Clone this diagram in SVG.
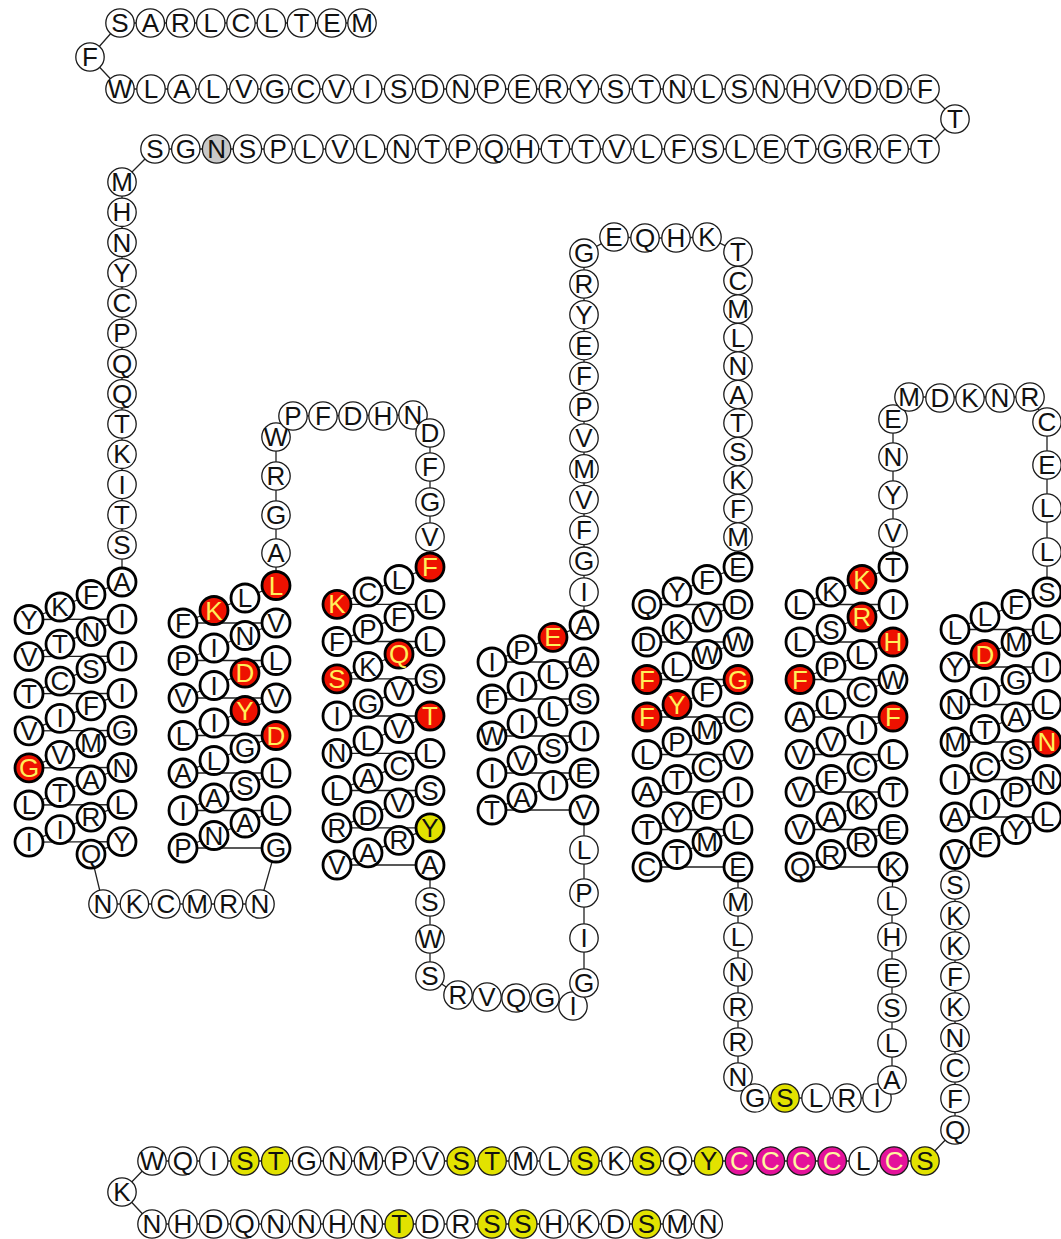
<svg xmlns="http://www.w3.org/2000/svg" width="1061" height="1239" viewBox="0 0 1061 1239">
<style>
circle{fill:#fff;stroke:#1a1a1a;stroke-width:1.3}
.t circle{stroke:#000;stroke-width:2.8}
.R circle{fill:#ee1100}
.R text{fill:#ffef5a}
.Y circle{fill:#e2e200}
.M circle{fill:#e4129b}
.M text{fill:#fff7a0}
.G circle{fill:#c8c8c8}
text{font-family:"Liberation Sans",Arial,sans-serif;font-size:26px;text-anchor:middle;dominant-baseline:central;fill:#111}
#connectors polyline{fill:none;stroke:#222;stroke-width:1.3}
</style>
<rect width="1061" height="1239" fill="#fff"/>
<g id="connectors">
<polyline points="362,23 120,23 90,57 120,89 925,89 955,119 925,149 155,149 122,182 122,545 122,582 91,594.5 60,607 29,619.5 122,619.1 91,631.6 60,644.1 29,656.6 122,656.2 91,668.7 60,681.2 29,693.7 122,693.3 91,705.8 60,718.3 29,730.8 122,730.4 91,742.9 60,755.4 29,767.9 122,767.5 91,780 60,792.5 29,805 122,804.6 91,817.1 60,829.6 29,842.1 122,841.7 91,854.2 103,904 260,904 276,848 183,848 214,835.5 245,823 276,810.5 183,810.5 214,798 245,785.5 276,773 183,773 214,760.5 245,748 276,735.5 183,735.5 214,723 245,710.5 276,698 183,698 214,685.5 245,673 276,660.5 183,660.5 214,648 245,635.5 276,623 183,623 214,610.5 245,598 276,585.5 276,437 293,416 413,415 430,433 430,537 430,567 399,579.5 368,592 337,604.3 430,604.3 399,616.8 368,629.3 337,641.5 430,641.5 399,654 368,666.5 337,678.8 430,678.8 399,691.3 368,703.8 337,716 430,716 399,728.5 368,741 337,753.3 430,753.3 399,765.8 368,778.3 337,790.5 430,790.5 399,803 368,815.5 337,827.8 430,827.8 399,840.3 368,852.8 337,865 430,865 430,976 458,995 487,997 516,998 545,998 573,1006 584,983 584,850 584,810 492,810 522,797.7 553,785.3 584,773 492,773 522,760.7 553,748.3 584,736 492,736 522,723.7 553,711.3 584,699 492,699 522,686.7 553,674.3 584,662 492,662 522,649.7 553,637.3 584,625 584,253.2 614,237 645,238 676,238 707,237 738,252 738,537 738,567 707,579.5 677,592 647,604.5 738,604.5 707,617 677,629.5 647,642 738,642 707,654.5 677,667 647,679.5 738,679.5 707,692 677,704.5 647,717 738,717 707,729.5 677,742 647,754.5 738,754.5 707,767 677,779.5 647,792 738,792 707,804.5 677,817 647,829.5 738,829.5 707,842 677,854.5 647,867 738,867 738,1077 755,1098 877,1098 892,1080 892,901 893,867 800,867 831,854.5 862,842 893,829.5 800,829.5 831,817 862,804.5 893,792 800,792 831,779.5 862,767 893,754.5 800,754.5 831,742 862,729.5 893,717 800,717 831,704.5 862,692 893,679.5 800,679.5 831,667 862,654.5 893,642 800,642 831,629.5 862,617 893,604.5 800,604.5 831,592 862,579.5 893,567 893,419 909,397 1030,397 1047,422 1047,552 1047,592 1016,604.5 985,617 955,629.5 1047,629.5 1016,642 985,654.5 955,667 1047,667 1016,679.5 985,692 955,704.5 1047,704.5 1016,717 985,729.5 955,742 1047,742 1016,754.5 985,767 955,779.5 1047,779.5 1016,792 985,804.5 955,817 1047,817 1016,829.5 985,842 955,854.5 955,1130 925,1161 152,1161 122,1192 152,1224 708.2,1224"/>
</g>
<g id="residues">
<g id="r1" class="l" transform="translate(362 23)"><circle r="14.2"/><text>M</text></g>
<g id="r2" class="l" transform="translate(331.8 23)"><circle r="14.2"/><text>E</text></g>
<g id="r3" class="l" transform="translate(301.5 23)"><circle r="14.2"/><text>T</text></g>
<g id="r4" class="l" transform="translate(271.3 23)"><circle r="14.2"/><text>L</text></g>
<g id="r5" class="l" transform="translate(241 23)"><circle r="14.2"/><text>C</text></g>
<g id="r6" class="l" transform="translate(210.8 23)"><circle r="14.2"/><text>L</text></g>
<g id="r7" class="l" transform="translate(180.5 23)"><circle r="14.2"/><text>R</text></g>
<g id="r8" class="l" transform="translate(150.3 23)"><circle r="14.2"/><text>A</text></g>
<g id="r9" class="l" transform="translate(120 23)"><circle r="14.2"/><text>S</text></g>
<g id="r10" class="l" transform="translate(90 57)"><circle r="14.2"/><text>F</text></g>
<g id="r11" class="l" transform="translate(120 89)"><circle r="14.2"/><text>W</text></g>
<g id="r12" class="l" transform="translate(151 89)"><circle r="14.2"/><text>L</text></g>
<g id="r13" class="l" transform="translate(181.9 89)"><circle r="14.2"/><text>A</text></g>
<g id="r14" class="l" transform="translate(212.9 89)"><circle r="14.2"/><text>L</text></g>
<g id="r15" class="l" transform="translate(243.8 89)"><circle r="14.2"/><text>V</text></g>
<g id="r16" class="l" transform="translate(274.8 89)"><circle r="14.2"/><text>G</text></g>
<g id="r17" class="l" transform="translate(305.8 89)"><circle r="14.2"/><text>C</text></g>
<g id="r18" class="l" transform="translate(336.7 89)"><circle r="14.2"/><text>V</text></g>
<g id="r19" class="l" transform="translate(367.7 89)"><circle r="14.2"/><text>I</text></g>
<g id="r20" class="l" transform="translate(398.6 89)"><circle r="14.2"/><text>S</text></g>
<g id="r21" class="l" transform="translate(429.6 89)"><circle r="14.2"/><text>D</text></g>
<g id="r22" class="l" transform="translate(460.6 89)"><circle r="14.2"/><text>N</text></g>
<g id="r23" class="l" transform="translate(491.5 89)"><circle r="14.2"/><text>P</text></g>
<g id="r24" class="l" transform="translate(522.5 89)"><circle r="14.2"/><text>E</text></g>
<g id="r25" class="l" transform="translate(553.4 89)"><circle r="14.2"/><text>R</text></g>
<g id="r26" class="l" transform="translate(584.4 89)"><circle r="14.2"/><text>Y</text></g>
<g id="r27" class="l" transform="translate(615.4 89)"><circle r="14.2"/><text>S</text></g>
<g id="r28" class="l" transform="translate(646.3 89)"><circle r="14.2"/><text>T</text></g>
<g id="r29" class="l" transform="translate(677.3 89)"><circle r="14.2"/><text>N</text></g>
<g id="r30" class="l" transform="translate(708.2 89)"><circle r="14.2"/><text>L</text></g>
<g id="r31" class="l" transform="translate(739.2 89)"><circle r="14.2"/><text>S</text></g>
<g id="r32" class="l" transform="translate(770.2 89)"><circle r="14.2"/><text>N</text></g>
<g id="r33" class="l" transform="translate(801.1 89)"><circle r="14.2"/><text>H</text></g>
<g id="r34" class="l" transform="translate(832.1 89)"><circle r="14.2"/><text>V</text></g>
<g id="r35" class="l" transform="translate(863 89)"><circle r="14.2"/><text>D</text></g>
<g id="r36" class="l" transform="translate(894 89)"><circle r="14.2"/><text>D</text></g>
<g id="r37" class="l" transform="translate(925 89)"><circle r="14.2"/><text>F</text></g>
<g id="r38" class="l" transform="translate(955 119)"><circle r="14.2"/><text>T</text></g>
<g id="r39" class="l" transform="translate(925 149)"><circle r="14.2"/><text>T</text></g>
<g id="r40" class="l" transform="translate(894.2 149)"><circle r="14.2"/><text>F</text></g>
<g id="r41" class="l" transform="translate(863.4 149)"><circle r="14.2"/><text>R</text></g>
<g id="r42" class="l" transform="translate(832.6 149)"><circle r="14.2"/><text>G</text></g>
<g id="r43" class="l" transform="translate(801.8 149)"><circle r="14.2"/><text>T</text></g>
<g id="r44" class="l" transform="translate(771 149)"><circle r="14.2"/><text>E</text></g>
<g id="r45" class="l" transform="translate(740.2 149)"><circle r="14.2"/><text>L</text></g>
<g id="r46" class="l" transform="translate(709.4 149)"><circle r="14.2"/><text>S</text></g>
<g id="r47" class="l" transform="translate(678.6 149)"><circle r="14.2"/><text>F</text></g>
<g id="r48" class="l" transform="translate(647.8 149)"><circle r="14.2"/><text>L</text></g>
<g id="r49" class="l" transform="translate(617 149)"><circle r="14.2"/><text>V</text></g>
<g id="r50" class="l" transform="translate(586.2 149)"><circle r="14.2"/><text>T</text></g>
<g id="r51" class="l" transform="translate(555.4 149)"><circle r="14.2"/><text>T</text></g>
<g id="r52" class="l" transform="translate(524.6 149)"><circle r="14.2"/><text>H</text></g>
<g id="r53" class="l" transform="translate(493.8 149)"><circle r="14.2"/><text>Q</text></g>
<g id="r54" class="l" transform="translate(463 149)"><circle r="14.2"/><text>P</text></g>
<g id="r55" class="l" transform="translate(432.2 149)"><circle r="14.2"/><text>T</text></g>
<g id="r56" class="l" transform="translate(401.4 149)"><circle r="14.2"/><text>N</text></g>
<g id="r57" class="l" transform="translate(370.6 149)"><circle r="14.2"/><text>L</text></g>
<g id="r58" class="l" transform="translate(339.8 149)"><circle r="14.2"/><text>V</text></g>
<g id="r59" class="l" transform="translate(309 149)"><circle r="14.2"/><text>L</text></g>
<g id="r60" class="l" transform="translate(278.2 149)"><circle r="14.2"/><text>P</text></g>
<g id="r61" class="l" transform="translate(247.4 149)"><circle r="14.2"/><text>S</text></g>
<g id="r62" class="l G" transform="translate(216.6 149)"><circle r="14.2"/><text>N</text></g>
<g id="r63" class="l" transform="translate(185.8 149)"><circle r="14.2"/><text>G</text></g>
<g id="r64" class="l" transform="translate(155 149)"><circle r="14.2"/><text>S</text></g>
<g id="r65" class="l" transform="translate(122 182)"><circle r="14.2"/><text>M</text></g>
<g id="r66" class="l" transform="translate(122 212.3)"><circle r="14.2"/><text>H</text></g>
<g id="r67" class="l" transform="translate(122 242.5)"><circle r="14.2"/><text>N</text></g>
<g id="r68" class="l" transform="translate(122 272.8)"><circle r="14.2"/><text>Y</text></g>
<g id="r69" class="l" transform="translate(122 303)"><circle r="14.2"/><text>C</text></g>
<g id="r70" class="l" transform="translate(122 333.3)"><circle r="14.2"/><text>P</text></g>
<g id="r71" class="l" transform="translate(122 363.5)"><circle r="14.2"/><text>Q</text></g>
<g id="r72" class="l" transform="translate(122 393.8)"><circle r="14.2"/><text>Q</text></g>
<g id="r73" class="l" transform="translate(122 424)"><circle r="14.2"/><text>T</text></g>
<g id="r74" class="l" transform="translate(122 454.3)"><circle r="14.2"/><text>K</text></g>
<g id="r75" class="l" transform="translate(122 484.5)"><circle r="14.2"/><text>I</text></g>
<g id="r76" class="l" transform="translate(122 514.8)"><circle r="14.2"/><text>T</text></g>
<g id="r77" class="l" transform="translate(122 545)"><circle r="14.2"/><text>S</text></g>
<g id="r78" class="t" transform="translate(122 582)"><circle r="14"/><text>A</text></g>
<g id="r79" class="t" transform="translate(91 594.5)"><circle r="14"/><text>F</text></g>
<g id="r80" class="t" transform="translate(60 607)"><circle r="14"/><text>K</text></g>
<g id="r81" class="t" transform="translate(29 619.5)"><circle r="14"/><text>Y</text></g>
<g id="r82" class="t" transform="translate(122 619.1)"><circle r="14"/><text>I</text></g>
<g id="r83" class="t" transform="translate(91 631.6)"><circle r="14"/><text>N</text></g>
<g id="r84" class="t" transform="translate(60 644.1)"><circle r="14"/><text>T</text></g>
<g id="r85" class="t" transform="translate(29 656.6)"><circle r="14"/><text>V</text></g>
<g id="r86" class="t" transform="translate(122 656.2)"><circle r="14"/><text>I</text></g>
<g id="r87" class="t" transform="translate(91 668.7)"><circle r="14"/><text>S</text></g>
<g id="r88" class="t" transform="translate(60 681.2)"><circle r="14"/><text>C</text></g>
<g id="r89" class="t" transform="translate(29 693.7)"><circle r="14"/><text>T</text></g>
<g id="r90" class="t" transform="translate(122 693.3)"><circle r="14"/><text>I</text></g>
<g id="r91" class="t" transform="translate(91 705.8)"><circle r="14"/><text>F</text></g>
<g id="r92" class="t" transform="translate(60 718.3)"><circle r="14"/><text>I</text></g>
<g id="r93" class="t" transform="translate(29 730.8)"><circle r="14"/><text>V</text></g>
<g id="r94" class="t" transform="translate(122 730.4)"><circle r="14"/><text>G</text></g>
<g id="r95" class="t" transform="translate(91 742.9)"><circle r="14"/><text>M</text></g>
<g id="r96" class="t" transform="translate(60 755.4)"><circle r="14"/><text>V</text></g>
<g id="r97" class="t R" transform="translate(29 767.9)"><circle r="14"/><text>G</text></g>
<g id="r98" class="t" transform="translate(122 767.5)"><circle r="14"/><text>N</text></g>
<g id="r99" class="t" transform="translate(91 780)"><circle r="14"/><text>A</text></g>
<g id="r100" class="t" transform="translate(60 792.5)"><circle r="14"/><text>T</text></g>
<g id="r101" class="t" transform="translate(29 805)"><circle r="14"/><text>L</text></g>
<g id="r102" class="t" transform="translate(122 804.6)"><circle r="14"/><text>L</text></g>
<g id="r103" class="t" transform="translate(91 817.1)"><circle r="14"/><text>R</text></g>
<g id="r104" class="t" transform="translate(60 829.6)"><circle r="14"/><text>I</text></g>
<g id="r105" class="t" transform="translate(29 842.1)"><circle r="14"/><text>I</text></g>
<g id="r106" class="t" transform="translate(122 841.7)"><circle r="14"/><text>Y</text></g>
<g id="r107" class="t" transform="translate(91 854.2)"><circle r="14"/><text>Q</text></g>
<g id="r108" class="l" transform="translate(103 904)"><circle r="14.2"/><text>N</text></g>
<g id="r109" class="l" transform="translate(134.4 904)"><circle r="14.2"/><text>K</text></g>
<g id="r110" class="l" transform="translate(165.8 904)"><circle r="14.2"/><text>C</text></g>
<g id="r111" class="l" transform="translate(197.2 904)"><circle r="14.2"/><text>M</text></g>
<g id="r112" class="l" transform="translate(228.6 904)"><circle r="14.2"/><text>R</text></g>
<g id="r113" class="l" transform="translate(260 904)"><circle r="14.2"/><text>N</text></g>
<g id="r114" class="t" transform="translate(276 848)"><circle r="14"/><text>G</text></g>
<g id="r115" class="t" transform="translate(183 848)"><circle r="14"/><text>P</text></g>
<g id="r116" class="t" transform="translate(214 835.5)"><circle r="14"/><text>N</text></g>
<g id="r117" class="t" transform="translate(245 823)"><circle r="14"/><text>A</text></g>
<g id="r118" class="t" transform="translate(276 810.5)"><circle r="14"/><text>L</text></g>
<g id="r119" class="t" transform="translate(183 810.5)"><circle r="14"/><text>I</text></g>
<g id="r120" class="t" transform="translate(214 798)"><circle r="14"/><text>A</text></g>
<g id="r121" class="t" transform="translate(245 785.5)"><circle r="14"/><text>S</text></g>
<g id="r122" class="t" transform="translate(276 773)"><circle r="14"/><text>L</text></g>
<g id="r123" class="t" transform="translate(183 773)"><circle r="14"/><text>A</text></g>
<g id="r124" class="t" transform="translate(214 760.5)"><circle r="14"/><text>L</text></g>
<g id="r125" class="t" transform="translate(245 748)"><circle r="14"/><text>G</text></g>
<g id="r126" class="t R" transform="translate(276 735.5)"><circle r="14"/><text>D</text></g>
<g id="r127" class="t" transform="translate(183 735.5)"><circle r="14"/><text>L</text></g>
<g id="r128" class="t" transform="translate(214 723)"><circle r="14"/><text>I</text></g>
<g id="r129" class="t R" transform="translate(245 710.5)"><circle r="14"/><text>Y</text></g>
<g id="r130" class="t" transform="translate(276 698)"><circle r="14"/><text>V</text></g>
<g id="r131" class="t" transform="translate(183 698)"><circle r="14"/><text>V</text></g>
<g id="r132" class="t" transform="translate(214 685.5)"><circle r="14"/><text>I</text></g>
<g id="r133" class="t R" transform="translate(245 673)"><circle r="14"/><text>D</text></g>
<g id="r134" class="t" transform="translate(276 660.5)"><circle r="14"/><text>L</text></g>
<g id="r135" class="t" transform="translate(183 660.5)"><circle r="14"/><text>P</text></g>
<g id="r136" class="t" transform="translate(214 648)"><circle r="14"/><text>I</text></g>
<g id="r137" class="t" transform="translate(245 635.5)"><circle r="14"/><text>N</text></g>
<g id="r138" class="t" transform="translate(276 623)"><circle r="14"/><text>V</text></g>
<g id="r139" class="t" transform="translate(183 623)"><circle r="14"/><text>F</text></g>
<g id="r140" class="t R" transform="translate(214 610.5)"><circle r="14"/><text>K</text></g>
<g id="r141" class="t" transform="translate(245 598)"><circle r="14"/><text>L</text></g>
<g id="r142" class="t R" transform="translate(276 585.5)"><circle r="14"/><text>L</text></g>
<g id="r143" class="l" transform="translate(276 553)"><circle r="14.2"/><text>A</text></g>
<g id="r144" class="l" transform="translate(276 515)"><circle r="14.2"/><text>G</text></g>
<g id="r145" class="l" transform="translate(276 476)"><circle r="14.2"/><text>R</text></g>
<g id="r146" class="l" transform="translate(276 437)"><circle r="14.2"/><text>W</text></g>
<g id="r147" class="l" transform="translate(293 416)"><circle r="14.2"/><text>P</text></g>
<g id="r148" class="l" transform="translate(323 416)"><circle r="14.2"/><text>F</text></g>
<g id="r149" class="l" transform="translate(353 416)"><circle r="14.2"/><text>D</text></g>
<g id="r150" class="l" transform="translate(383 416)"><circle r="14.2"/><text>H</text></g>
<g id="r151" class="l" transform="translate(413 415)"><circle r="14.2"/><text>N</text></g>
<g id="r152" class="l" transform="translate(430 433)"><circle r="14.2"/><text>D</text></g>
<g id="r153" class="l" transform="translate(430 467)"><circle r="14.2"/><text>F</text></g>
<g id="r154" class="l" transform="translate(430 502)"><circle r="14.2"/><text>G</text></g>
<g id="r155" class="l" transform="translate(430 537)"><circle r="14.2"/><text>V</text></g>
<g id="r156" class="t R" transform="translate(430 567)"><circle r="14"/><text>F</text></g>
<g id="r157" class="t" transform="translate(399 579.5)"><circle r="14"/><text>L</text></g>
<g id="r158" class="t" transform="translate(368 592)"><circle r="14"/><text>C</text></g>
<g id="r159" class="t R" transform="translate(337 604.3)"><circle r="14"/><text>K</text></g>
<g id="r160" class="t" transform="translate(430 604.3)"><circle r="14"/><text>L</text></g>
<g id="r161" class="t" transform="translate(399 616.8)"><circle r="14"/><text>F</text></g>
<g id="r162" class="t" transform="translate(368 629.3)"><circle r="14"/><text>P</text></g>
<g id="r163" class="t" transform="translate(337 641.5)"><circle r="14"/><text>F</text></g>
<g id="r164" class="t" transform="translate(430 641.5)"><circle r="14"/><text>L</text></g>
<g id="r165" class="t R" transform="translate(399 654)"><circle r="14"/><text>Q</text></g>
<g id="r166" class="t" transform="translate(368 666.5)"><circle r="14"/><text>K</text></g>
<g id="r167" class="t R" transform="translate(337 678.8)"><circle r="14"/><text>S</text></g>
<g id="r168" class="t" transform="translate(430 678.8)"><circle r="14"/><text>S</text></g>
<g id="r169" class="t" transform="translate(399 691.3)"><circle r="14"/><text>V</text></g>
<g id="r170" class="t" transform="translate(368 703.8)"><circle r="14"/><text>G</text></g>
<g id="r171" class="t" transform="translate(337 716)"><circle r="14"/><text>I</text></g>
<g id="r172" class="t R" transform="translate(430 716)"><circle r="14"/><text>T</text></g>
<g id="r173" class="t" transform="translate(399 728.5)"><circle r="14"/><text>V</text></g>
<g id="r174" class="t" transform="translate(368 741)"><circle r="14"/><text>L</text></g>
<g id="r175" class="t" transform="translate(337 753.3)"><circle r="14"/><text>N</text></g>
<g id="r176" class="t" transform="translate(430 753.3)"><circle r="14"/><text>L</text></g>
<g id="r177" class="t" transform="translate(399 765.8)"><circle r="14"/><text>C</text></g>
<g id="r178" class="t" transform="translate(368 778.3)"><circle r="14"/><text>A</text></g>
<g id="r179" class="t" transform="translate(337 790.5)"><circle r="14"/><text>L</text></g>
<g id="r180" class="t" transform="translate(430 790.5)"><circle r="14"/><text>S</text></g>
<g id="r181" class="t" transform="translate(399 803)"><circle r="14"/><text>V</text></g>
<g id="r182" class="t" transform="translate(368 815.5)"><circle r="14"/><text>D</text></g>
<g id="r183" class="t" transform="translate(337 827.8)"><circle r="14"/><text>R</text></g>
<g id="r184" class="t Y" transform="translate(430 827.8)"><circle r="14"/><text>Y</text></g>
<g id="r185" class="t" transform="translate(399 840.3)"><circle r="14"/><text>R</text></g>
<g id="r186" class="t" transform="translate(368 852.8)"><circle r="14"/><text>A</text></g>
<g id="r187" class="t" transform="translate(337 865)"><circle r="14"/><text>V</text></g>
<g id="r188" class="t" transform="translate(430 865)"><circle r="14"/><text>A</text></g>
<g id="r189" class="l" transform="translate(430 902)"><circle r="14.2"/><text>S</text></g>
<g id="r190" class="l" transform="translate(430 939)"><circle r="14.2"/><text>W</text></g>
<g id="r191" class="l" transform="translate(430 976)"><circle r="14.2"/><text>S</text></g>
<g id="r192" class="l" transform="translate(458 995)"><circle r="14.2"/><text>R</text></g>
<g id="r193" class="l" transform="translate(487 997)"><circle r="14.2"/><text>V</text></g>
<g id="r194" class="l" transform="translate(516 998)"><circle r="14.2"/><text>Q</text></g>
<g id="r195" class="l" transform="translate(545 998)"><circle r="14.2"/><text>G</text></g>
<g id="r196" class="l" transform="translate(573 1006)"><circle r="14.2"/><text>I</text></g>
<g id="r197" class="l" transform="translate(584 983)"><circle r="14.2"/><text>G</text></g>
<g id="r198" class="l" transform="translate(584 938)"><circle r="14.2"/><text>I</text></g>
<g id="r199" class="l" transform="translate(584 893)"><circle r="14.2"/><text>P</text></g>
<g id="r200" class="l" transform="translate(584 850)"><circle r="14.2"/><text>L</text></g>
<g id="r201" class="t" transform="translate(584 810)"><circle r="14"/><text>V</text></g>
<g id="r202" class="t" transform="translate(492 810)"><circle r="14"/><text>T</text></g>
<g id="r203" class="t" transform="translate(522 797.7)"><circle r="14"/><text>A</text></g>
<g id="r204" class="t" transform="translate(553 785.3)"><circle r="14"/><text>I</text></g>
<g id="r205" class="t" transform="translate(584 773)"><circle r="14"/><text>E</text></g>
<g id="r206" class="t" transform="translate(492 773)"><circle r="14"/><text>I</text></g>
<g id="r207" class="t" transform="translate(522 760.7)"><circle r="14"/><text>V</text></g>
<g id="r208" class="t" transform="translate(553 748.3)"><circle r="14"/><text>S</text></g>
<g id="r209" class="t" transform="translate(584 736)"><circle r="14"/><text>I</text></g>
<g id="r210" class="t" transform="translate(492 736)"><circle r="14"/><text>W</text></g>
<g id="r211" class="t" transform="translate(522 723.7)"><circle r="14"/><text>I</text></g>
<g id="r212" class="t" transform="translate(553 711.3)"><circle r="14"/><text>L</text></g>
<g id="r213" class="t" transform="translate(584 699)"><circle r="14"/><text>S</text></g>
<g id="r214" class="t" transform="translate(492 699)"><circle r="14"/><text>F</text></g>
<g id="r215" class="t" transform="translate(522 686.7)"><circle r="14"/><text>I</text></g>
<g id="r216" class="t" transform="translate(553 674.3)"><circle r="14"/><text>L</text></g>
<g id="r217" class="t" transform="translate(584 662)"><circle r="14"/><text>A</text></g>
<g id="r218" class="t" transform="translate(492 662)"><circle r="14"/><text>I</text></g>
<g id="r219" class="t" transform="translate(522 649.7)"><circle r="14"/><text>P</text></g>
<g id="r220" class="t R" transform="translate(553 637.3)"><circle r="14"/><text>E</text></g>
<g id="r221" class="t" transform="translate(584 625)"><circle r="14"/><text>A</text></g>
<g id="r222" class="l" transform="translate(584 592)"><circle r="14.2"/><text>I</text></g>
<g id="r223" class="l" transform="translate(584 561.2)"><circle r="14.2"/><text>G</text></g>
<g id="r224" class="l" transform="translate(584 530.4)"><circle r="14.2"/><text>F</text></g>
<g id="r225" class="l" transform="translate(584 499.6)"><circle r="14.2"/><text>V</text></g>
<g id="r226" class="l" transform="translate(584 468.8)"><circle r="14.2"/><text>M</text></g>
<g id="r227" class="l" transform="translate(584 438)"><circle r="14.2"/><text>V</text></g>
<g id="r228" class="l" transform="translate(584 407.2)"><circle r="14.2"/><text>P</text></g>
<g id="r229" class="l" transform="translate(584 376.4)"><circle r="14.2"/><text>F</text></g>
<g id="r230" class="l" transform="translate(584 345.6)"><circle r="14.2"/><text>E</text></g>
<g id="r231" class="l" transform="translate(584 314.8)"><circle r="14.2"/><text>Y</text></g>
<g id="r232" class="l" transform="translate(584 284)"><circle r="14.2"/><text>R</text></g>
<g id="r233" class="l" transform="translate(584 253.2)"><circle r="14.2"/><text>G</text></g>
<g id="r234" class="l" transform="translate(614 237)"><circle r="14.2"/><text>E</text></g>
<g id="r235" class="l" transform="translate(645 238)"><circle r="14.2"/><text>Q</text></g>
<g id="r236" class="l" transform="translate(676 238)"><circle r="14.2"/><text>H</text></g>
<g id="r237" class="l" transform="translate(707 237)"><circle r="14.2"/><text>K</text></g>
<g id="r238" class="l" transform="translate(738 252)"><circle r="14.2"/><text>T</text></g>
<g id="r239" class="l" transform="translate(738 280.5)"><circle r="14.2"/><text>C</text></g>
<g id="r240" class="l" transform="translate(738 309)"><circle r="14.2"/><text>M</text></g>
<g id="r241" class="l" transform="translate(738 337.5)"><circle r="14.2"/><text>L</text></g>
<g id="r242" class="l" transform="translate(738 366)"><circle r="14.2"/><text>N</text></g>
<g id="r243" class="l" transform="translate(738 394.5)"><circle r="14.2"/><text>A</text></g>
<g id="r244" class="l" transform="translate(738 423)"><circle r="14.2"/><text>T</text></g>
<g id="r245" class="l" transform="translate(738 451.5)"><circle r="14.2"/><text>S</text></g>
<g id="r246" class="l" transform="translate(738 480)"><circle r="14.2"/><text>K</text></g>
<g id="r247" class="l" transform="translate(738 508.5)"><circle r="14.2"/><text>F</text></g>
<g id="r248" class="l" transform="translate(738 537)"><circle r="14.2"/><text>M</text></g>
<g id="r249" class="t" transform="translate(738 567)"><circle r="14"/><text>E</text></g>
<g id="r250" class="t" transform="translate(707 579.5)"><circle r="14"/><text>F</text></g>
<g id="r251" class="t" transform="translate(677 592)"><circle r="14"/><text>Y</text></g>
<g id="r252" class="t" transform="translate(647 604.5)"><circle r="14"/><text>Q</text></g>
<g id="r253" class="t" transform="translate(738 604.5)"><circle r="14"/><text>D</text></g>
<g id="r254" class="t" transform="translate(707 617)"><circle r="14"/><text>V</text></g>
<g id="r255" class="t" transform="translate(677 629.5)"><circle r="14"/><text>K</text></g>
<g id="r256" class="t" transform="translate(647 642)"><circle r="14"/><text>D</text></g>
<g id="r257" class="t" transform="translate(738 642)"><circle r="14"/><text>W</text></g>
<g id="r258" class="t" transform="translate(707 654.5)"><circle r="14"/><text>W</text></g>
<g id="r259" class="t" transform="translate(677 667)"><circle r="14"/><text>L</text></g>
<g id="r260" class="t R" transform="translate(647 679.5)"><circle r="14"/><text>F</text></g>
<g id="r261" class="t R" transform="translate(738 679.5)"><circle r="14"/><text>G</text></g>
<g id="r262" class="t" transform="translate(707 692)"><circle r="14"/><text>F</text></g>
<g id="r263" class="t R" transform="translate(677 704.5)"><circle r="14"/><text>Y</text></g>
<g id="r264" class="t R" transform="translate(647 717)"><circle r="14"/><text>F</text></g>
<g id="r265" class="t" transform="translate(738 717)"><circle r="14"/><text>C</text></g>
<g id="r266" class="t" transform="translate(707 729.5)"><circle r="14"/><text>M</text></g>
<g id="r267" class="t" transform="translate(677 742)"><circle r="14"/><text>P</text></g>
<g id="r268" class="t" transform="translate(647 754.5)"><circle r="14"/><text>L</text></g>
<g id="r269" class="t" transform="translate(738 754.5)"><circle r="14"/><text>V</text></g>
<g id="r270" class="t" transform="translate(707 767)"><circle r="14"/><text>C</text></g>
<g id="r271" class="t" transform="translate(677 779.5)"><circle r="14"/><text>T</text></g>
<g id="r272" class="t" transform="translate(647 792)"><circle r="14"/><text>A</text></g>
<g id="r273" class="t" transform="translate(738 792)"><circle r="14"/><text>I</text></g>
<g id="r274" class="t" transform="translate(707 804.5)"><circle r="14"/><text>F</text></g>
<g id="r275" class="t" transform="translate(677 817)"><circle r="14"/><text>Y</text></g>
<g id="r276" class="t" transform="translate(647 829.5)"><circle r="14"/><text>T</text></g>
<g id="r277" class="t" transform="translate(738 829.5)"><circle r="14"/><text>L</text></g>
<g id="r278" class="t" transform="translate(707 842)"><circle r="14"/><text>M</text></g>
<g id="r279" class="t" transform="translate(677 854.5)"><circle r="14"/><text>T</text></g>
<g id="r280" class="t" transform="translate(647 867)"><circle r="14"/><text>C</text></g>
<g id="r281" class="t" transform="translate(738 867)"><circle r="14"/><text>E</text></g>
<g id="r282" class="l" transform="translate(738 902)"><circle r="14.2"/><text>M</text></g>
<g id="r283" class="l" transform="translate(738 937)"><circle r="14.2"/><text>L</text></g>
<g id="r284" class="l" transform="translate(738 972)"><circle r="14.2"/><text>N</text></g>
<g id="r285" class="l" transform="translate(738 1007)"><circle r="14.2"/><text>R</text></g>
<g id="r286" class="l" transform="translate(738 1042)"><circle r="14.2"/><text>R</text></g>
<g id="r287" class="l" transform="translate(738 1077)"><circle r="14.2"/><text>N</text></g>
<g id="r288" class="l" transform="translate(755 1098)"><circle r="14.2"/><text>G</text></g>
<g id="r289" class="l Y" transform="translate(785 1098)"><circle r="14.2"/><text>S</text></g>
<g id="r290" class="l" transform="translate(816 1098)"><circle r="14.2"/><text>L</text></g>
<g id="r291" class="l" transform="translate(847 1098)"><circle r="14.2"/><text>R</text></g>
<g id="r292" class="l" transform="translate(877 1098)"><circle r="14.2"/><text>I</text></g>
<g id="r293" class="l" transform="translate(892 1080)"><circle r="14.2"/><text>A</text></g>
<g id="r294" class="l" transform="translate(892 1043)"><circle r="14.2"/><text>L</text></g>
<g id="r295" class="l" transform="translate(892 1008)"><circle r="14.2"/><text>S</text></g>
<g id="r296" class="l" transform="translate(892 973)"><circle r="14.2"/><text>E</text></g>
<g id="r297" class="l" transform="translate(892 937)"><circle r="14.2"/><text>H</text></g>
<g id="r298" class="l" transform="translate(892 901)"><circle r="14.2"/><text>L</text></g>
<g id="r299" class="t" transform="translate(893 867)"><circle r="14"/><text>K</text></g>
<g id="r300" class="t" transform="translate(800 867)"><circle r="14"/><text>Q</text></g>
<g id="r301" class="t" transform="translate(831 854.5)"><circle r="14"/><text>R</text></g>
<g id="r302" class="t" transform="translate(862 842)"><circle r="14"/><text>R</text></g>
<g id="r303" class="t" transform="translate(893 829.5)"><circle r="14"/><text>E</text></g>
<g id="r304" class="t" transform="translate(800 829.5)"><circle r="14"/><text>V</text></g>
<g id="r305" class="t" transform="translate(831 817)"><circle r="14"/><text>A</text></g>
<g id="r306" class="t" transform="translate(862 804.5)"><circle r="14"/><text>K</text></g>
<g id="r307" class="t" transform="translate(893 792)"><circle r="14"/><text>T</text></g>
<g id="r308" class="t" transform="translate(800 792)"><circle r="14"/><text>V</text></g>
<g id="r309" class="t" transform="translate(831 779.5)"><circle r="14"/><text>F</text></g>
<g id="r310" class="t" transform="translate(862 767)"><circle r="14"/><text>C</text></g>
<g id="r311" class="t" transform="translate(893 754.5)"><circle r="14"/><text>L</text></g>
<g id="r312" class="t" transform="translate(800 754.5)"><circle r="14"/><text>V</text></g>
<g id="r313" class="t" transform="translate(831 742)"><circle r="14"/><text>V</text></g>
<g id="r314" class="t" transform="translate(862 729.5)"><circle r="14"/><text>I</text></g>
<g id="r315" class="t R" transform="translate(893 717)"><circle r="14"/><text>F</text></g>
<g id="r316" class="t" transform="translate(800 717)"><circle r="14"/><text>A</text></g>
<g id="r317" class="t" transform="translate(831 704.5)"><circle r="14"/><text>L</text></g>
<g id="r318" class="t" transform="translate(862 692)"><circle r="14"/><text>C</text></g>
<g id="r319" class="t" transform="translate(893 679.5)"><circle r="14"/><text>W</text></g>
<g id="r320" class="t R" transform="translate(800 679.5)"><circle r="14"/><text>F</text></g>
<g id="r321" class="t" transform="translate(831 667)"><circle r="14"/><text>P</text></g>
<g id="r322" class="t" transform="translate(862 654.5)"><circle r="14"/><text>L</text></g>
<g id="r323" class="t R" transform="translate(893 642)"><circle r="14"/><text>H</text></g>
<g id="r324" class="t" transform="translate(800 642)"><circle r="14"/><text>L</text></g>
<g id="r325" class="t" transform="translate(831 629.5)"><circle r="14"/><text>S</text></g>
<g id="r326" class="t R" transform="translate(862 617)"><circle r="14"/><text>R</text></g>
<g id="r327" class="t" transform="translate(893 604.5)"><circle r="14"/><text>I</text></g>
<g id="r328" class="t" transform="translate(800 604.5)"><circle r="14"/><text>L</text></g>
<g id="r329" class="t" transform="translate(831 592)"><circle r="14"/><text>K</text></g>
<g id="r330" class="t R" transform="translate(862 579.5)"><circle r="14"/><text>K</text></g>
<g id="r331" class="t" transform="translate(893 567)"><circle r="14"/><text>T</text></g>
<g id="r332" class="l" transform="translate(893 533)"><circle r="14.2"/><text>V</text></g>
<g id="r333" class="l" transform="translate(893 495)"><circle r="14.2"/><text>Y</text></g>
<g id="r334" class="l" transform="translate(893 457)"><circle r="14.2"/><text>N</text></g>
<g id="r335" class="l" transform="translate(893 419)"><circle r="14.2"/><text>E</text></g>
<g id="r336" class="l" transform="translate(909 397)"><circle r="14.2"/><text>M</text></g>
<g id="r337" class="l" transform="translate(940 398)"><circle r="14.2"/><text>D</text></g>
<g id="r338" class="l" transform="translate(970 398)"><circle r="14.2"/><text>K</text></g>
<g id="r339" class="l" transform="translate(1000 398)"><circle r="14.2"/><text>N</text></g>
<g id="r340" class="l" transform="translate(1030 397)"><circle r="14.2"/><text>R</text></g>
<g id="r341" class="l" transform="translate(1047 422)"><circle r="14.2"/><text>C</text></g>
<g id="r342" class="l" transform="translate(1047 465)"><circle r="14.2"/><text>E</text></g>
<g id="r343" class="l" transform="translate(1047 508)"><circle r="14.2"/><text>L</text></g>
<g id="r344" class="l" transform="translate(1047 552)"><circle r="14.2"/><text>L</text></g>
<g id="r345" class="t" transform="translate(1047 592)"><circle r="14"/><text>S</text></g>
<g id="r346" class="t" transform="translate(1016 604.5)"><circle r="14"/><text>F</text></g>
<g id="r347" class="t" transform="translate(985 617)"><circle r="14"/><text>L</text></g>
<g id="r348" class="t" transform="translate(955 629.5)"><circle r="14"/><text>L</text></g>
<g id="r349" class="t" transform="translate(1047 629.5)"><circle r="14"/><text>L</text></g>
<g id="r350" class="t" transform="translate(1016 642)"><circle r="14"/><text>M</text></g>
<g id="r351" class="t R" transform="translate(985 654.5)"><circle r="14"/><text>D</text></g>
<g id="r352" class="t" transform="translate(955 667)"><circle r="14"/><text>Y</text></g>
<g id="r353" class="t" transform="translate(1047 667)"><circle r="14"/><text>I</text></g>
<g id="r354" class="t" transform="translate(1016 679.5)"><circle r="14"/><text>G</text></g>
<g id="r355" class="t" transform="translate(985 692)"><circle r="14"/><text>I</text></g>
<g id="r356" class="t" transform="translate(955 704.5)"><circle r="14"/><text>N</text></g>
<g id="r357" class="t" transform="translate(1047 704.5)"><circle r="14"/><text>L</text></g>
<g id="r358" class="t" transform="translate(1016 717)"><circle r="14"/><text>A</text></g>
<g id="r359" class="t" transform="translate(985 729.5)"><circle r="14"/><text>T</text></g>
<g id="r360" class="t" transform="translate(955 742)"><circle r="14"/><text>M</text></g>
<g id="r361" class="t R" transform="translate(1047 742)"><circle r="14"/><text>N</text></g>
<g id="r362" class="t" transform="translate(1016 754.5)"><circle r="14"/><text>S</text></g>
<g id="r363" class="t" transform="translate(985 767)"><circle r="14"/><text>C</text></g>
<g id="r364" class="t" transform="translate(955 779.5)"><circle r="14"/><text>I</text></g>
<g id="r365" class="t" transform="translate(1047 779.5)"><circle r="14"/><text>N</text></g>
<g id="r366" class="t" transform="translate(1016 792)"><circle r="14"/><text>P</text></g>
<g id="r367" class="t" transform="translate(985 804.5)"><circle r="14"/><text>I</text></g>
<g id="r368" class="t" transform="translate(955 817)"><circle r="14"/><text>A</text></g>
<g id="r369" class="t" transform="translate(1047 817)"><circle r="14"/><text>L</text></g>
<g id="r370" class="t" transform="translate(1016 829.5)"><circle r="14"/><text>Y</text></g>
<g id="r371" class="t" transform="translate(985 842)"><circle r="14"/><text>F</text></g>
<g id="r372" class="t" transform="translate(955 854.5)"><circle r="14"/><text>V</text></g>
<g id="r373" class="l" transform="translate(955 885)"><circle r="14.2"/><text>S</text></g>
<g id="r374" class="l" transform="translate(955 915.5)"><circle r="14.2"/><text>K</text></g>
<g id="r375" class="l" transform="translate(955 946)"><circle r="14.2"/><text>K</text></g>
<g id="r376" class="l" transform="translate(955 976.5)"><circle r="14.2"/><text>F</text></g>
<g id="r377" class="l" transform="translate(955 1007)"><circle r="14.2"/><text>K</text></g>
<g id="r378" class="l" transform="translate(955 1037.5)"><circle r="14.2"/><text>N</text></g>
<g id="r379" class="l" transform="translate(955 1068)"><circle r="14.2"/><text>C</text></g>
<g id="r380" class="l" transform="translate(955 1098.5)"><circle r="14.2"/><text>F</text></g>
<g id="r381" class="l" transform="translate(955 1130)"><circle r="14.2"/><text>Q</text></g>
<g id="r382" class="l Y" transform="translate(925 1161)"><circle r="14.2"/><text>S</text></g>
<g id="r383" class="l M" transform="translate(894.1 1161)"><circle r="14.2"/><text>C</text></g>
<g id="r384" class="l" transform="translate(863.2 1161)"><circle r="14.2"/><text>L</text></g>
<g id="r385" class="l M" transform="translate(832.2 1161)"><circle r="14.2"/><text>C</text></g>
<g id="r386" class="l M" transform="translate(801.3 1161)"><circle r="14.2"/><text>C</text></g>
<g id="r387" class="l M" transform="translate(770.4 1161)"><circle r="14.2"/><text>C</text></g>
<g id="r388" class="l M" transform="translate(739.5 1161)"><circle r="14.2"/><text>C</text></g>
<g id="r389" class="l Y" transform="translate(708.6 1161)"><circle r="14.2"/><text>Y</text></g>
<g id="r390" class="l" transform="translate(677.6 1161)"><circle r="14.2"/><text>Q</text></g>
<g id="r391" class="l Y" transform="translate(646.7 1161)"><circle r="14.2"/><text>S</text></g>
<g id="r392" class="l" transform="translate(615.8 1161)"><circle r="14.2"/><text>K</text></g>
<g id="r393" class="l Y" transform="translate(584.9 1161)"><circle r="14.2"/><text>S</text></g>
<g id="r394" class="l" transform="translate(554 1161)"><circle r="14.2"/><text>L</text></g>
<g id="r395" class="l" transform="translate(523 1161)"><circle r="14.2"/><text>M</text></g>
<g id="r396" class="l Y" transform="translate(492.1 1161)"><circle r="14.2"/><text>T</text></g>
<g id="r397" class="l Y" transform="translate(461.2 1161)"><circle r="14.2"/><text>S</text></g>
<g id="r398" class="l" transform="translate(430.3 1161)"><circle r="14.2"/><text>V</text></g>
<g id="r399" class="l" transform="translate(399.4 1161)"><circle r="14.2"/><text>P</text></g>
<g id="r400" class="l" transform="translate(368.4 1161)"><circle r="14.2"/><text>M</text></g>
<g id="r401" class="l" transform="translate(337.5 1161)"><circle r="14.2"/><text>N</text></g>
<g id="r402" class="l" transform="translate(306.6 1161)"><circle r="14.2"/><text>G</text></g>
<g id="r403" class="l Y" transform="translate(275.7 1161)"><circle r="14.2"/><text>T</text></g>
<g id="r404" class="l Y" transform="translate(244.8 1161)"><circle r="14.2"/><text>S</text></g>
<g id="r405" class="l" transform="translate(213.8 1161)"><circle r="14.2"/><text>I</text></g>
<g id="r406" class="l" transform="translate(182.9 1161)"><circle r="14.2"/><text>Q</text></g>
<g id="r407" class="l" transform="translate(152 1161)"><circle r="14.2"/><text>W</text></g>
<g id="r408" class="l" transform="translate(122 1192)"><circle r="14.2"/><text>K</text></g>
<g id="r409" class="l" transform="translate(152 1224)"><circle r="14.2"/><text>N</text></g>
<g id="r410" class="l" transform="translate(182.9 1224)"><circle r="14.2"/><text>H</text></g>
<g id="r411" class="l" transform="translate(213.8 1224)"><circle r="14.2"/><text>D</text></g>
<g id="r412" class="l" transform="translate(244.7 1224)"><circle r="14.2"/><text>Q</text></g>
<g id="r413" class="l" transform="translate(275.6 1224)"><circle r="14.2"/><text>N</text></g>
<g id="r414" class="l" transform="translate(306.5 1224)"><circle r="14.2"/><text>N</text></g>
<g id="r415" class="l" transform="translate(337.4 1224)"><circle r="14.2"/><text>H</text></g>
<g id="r416" class="l" transform="translate(368.3 1224)"><circle r="14.2"/><text>N</text></g>
<g id="r417" class="l Y" transform="translate(399.2 1224)"><circle r="14.2"/><text>T</text></g>
<g id="r418" class="l" transform="translate(430.1 1224)"><circle r="14.2"/><text>D</text></g>
<g id="r419" class="l" transform="translate(461 1224)"><circle r="14.2"/><text>R</text></g>
<g id="r420" class="l Y" transform="translate(491.9 1224)"><circle r="14.2"/><text>S</text></g>
<g id="r421" class="l Y" transform="translate(522.8 1224)"><circle r="14.2"/><text>S</text></g>
<g id="r422" class="l" transform="translate(553.7 1224)"><circle r="14.2"/><text>H</text></g>
<g id="r423" class="l" transform="translate(584.6 1224)"><circle r="14.2"/><text>K</text></g>
<g id="r424" class="l" transform="translate(615.5 1224)"><circle r="14.2"/><text>D</text></g>
<g id="r425" class="l Y" transform="translate(646.4 1224)"><circle r="14.2"/><text>S</text></g>
<g id="r426" class="l" transform="translate(677.3 1224)"><circle r="14.2"/><text>M</text></g>
<g id="r427" class="l" transform="translate(708.2 1224)"><circle r="14.2"/><text>N</text></g>
</g>
</svg>
